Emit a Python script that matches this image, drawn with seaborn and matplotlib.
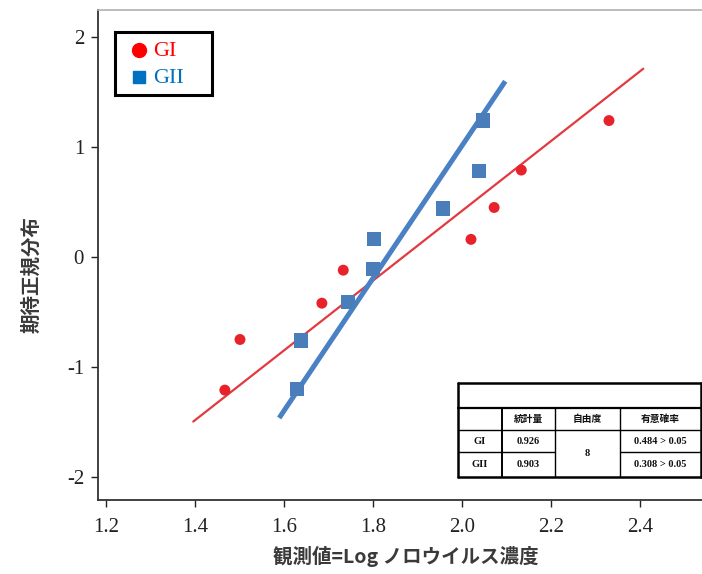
import numpy as np
import pandas as pd
import matplotlib
matplotlib.use("Agg")
import matplotlib.pyplot as plt
import seaborn as sns
from matplotlib.lines import Line2D
from matplotlib.patches import Rectangle

# Observed log norovirus concentration vs. expected normal quantile
gi_x = [1.467, 1.501, 1.685, 1.733, 2.020, 2.072, 2.133, 2.330]
gi_y = [-1.21, -0.75, -0.42, -0.12, 0.16, 0.45, 0.79, 1.24]
gii_x = [1.629, 1.638, 1.744, 1.800, 1.802, 1.957, 2.038, 2.047]
gii_y = [-1.20, -0.76, -0.41, -0.11, 0.16, 0.44, 0.78, 1.24]

# x extent of each reference line
gi_line_range = [1.396, 2.407]
gii_line_range = [1.589, 2.097]

groups = ["GI", "GII"]
x_ticks = [1.2, 1.4, 1.6, 1.8, 2.0, 2.2, 2.4]
y_ticks = [-2, -1, 0, 1, 2]

table_header = ["", "統計量", "自由度", "有意確率"]
table_stat = ["0.926", "0.903"]
table_df = "8"
table_p = ["0.484 > 0.05", "0.308 > 0.05"]

RED_PT = "#e8222b"
RED_LN = "#e23a40"
BLUE_PT = "#4a7ebb"
BLUE_LN = "#4a80c4"
LEG_RED = "#ff0000"
LEG_BLUE = "#0070c0"

sns.set_theme(style="white")
plt.rcParams["font.family"] = ["Liberation Serif", "Noto Sans CJK JP", "DejaVu Sans"]
CJK = ["Noto Sans CJK JP", "DejaVu Sans"]

W, H = 702, 574
fig = plt.figure(figsize=(W / 100, H / 100), dpi=100)
ax = fig.add_axes([98 / W, 1 - 500 / H, 604 / W, 490 / H])

df = pd.DataFrame({
    "x": gi_x + gii_x,
    "y": gi_y + gii_y,
    "group": ["GI"] * len(gi_x) + ["GII"] * len(gii_x),
})


def ref_line(xs, rng):
    xs = np.asarray(xs)
    m, sd = xs.mean(), xs.std(ddof=1)
    lx = np.array(rng)
    return lx, (lx - m) / sd


lx, ly = ref_line(gi_x, gi_line_range)
sns.lineplot(x=lx, y=ly, color=RED_LN, lw=1.6, ax=ax, zorder=2)
lx, ly = ref_line(gii_x, gii_line_range)
sns.lineplot(x=lx, y=ly, color=BLUE_LN, lw=3.6, ax=ax, zorder=2,
             solid_capstyle="butt")

sns.scatterplot(data=df[df.group == "GI"], x="x", y="y", marker="o",
                color=RED_PT, s=62, edgecolor="none", ax=ax, zorder=3)
sns.scatterplot(data=df[df.group == "GII"], x="x", y="y", marker="s",
                color=BLUE_PT, s=105, edgecolor="none", ax=ax, zorder=3)

ax.set_xlim(1.182, 2.539)
ax.set_ylim(-2.209, 2.245)
ax.set_xticks(x_ticks)
ax.set_xticklabels([f"{v:.1f}" for v in x_ticks])
ax.set_yticks(y_ticks)
ax.set_yticklabels([str(v) for v in y_ticks])
ax.tick_params(axis="x", direction="out", length=5, width=1, pad=8,
               labelsize=15, colors="#222222")
ax.tick_params(axis="y", direction="out", length=5, width=1, pad=5,
               labelsize=15, colors="#222222")
ax.tick_params(bottom=True, left=True)

for side in ("left", "bottom"):
    ax.spines[side].set_color("#333333")
    ax.spines[side].set_linewidth(1.3)
ax.spines["top"].set_color("#b0b0b0")
ax.spines["top"].set_linewidth(1.2)
ax.spines["right"].set_visible(False)

ax.set_xlabel("観測値=Log ノロウイルス濃度", family=CJK, fontsize=14,
              fontweight="bold", color="#3a3a3a")
ax.set_ylabel("期待正規分布", family=CJK, fontsize=14, fontweight="bold",
              color="#3a3a3a")
ax.xaxis.set_label_coords(0.51, -0.094)
ax.yaxis.set_label_coords(-0.094, 0.46)


# figure pixel helpers
def fx(px):
    return px / W


def fy(py):
    return 1 - py / H


# legend box
fig.add_artist(Rectangle((fx(115), fy(95)), fx(212) - fx(115),
                         fy(32) - fy(95), facecolor="white",
                         edgecolor="black", lw=2.2,
                         transform=fig.transFigure, zorder=5))
legend_items = [("o", 10, LEG_RED), ("s", 8.5, LEG_BLUE)]
for i, (g, (mk, ms, c)) in enumerate(zip(groups, legend_items)):
    yy = 50 + 27 * i
    fig.add_artist(Line2D([fx(139)], [fy(yy)], marker=mk, ms=ms, color=c,
                          ls="", transform=fig.transFigure, zorder=6))
    fig.text(fx(153), fy(yy + 1.5), g, color=c, fontsize=16, ha="left",
             va="center", zorder=6)


def hline(x0, x1, y, lw):
    fig.add_artist(Line2D([fx(x0), fx(x1)], [fy(y), fy(y)], color="black",
                          lw=lw, transform=fig.transFigure))


def vline(x, y0, y1, lw):
    fig.add_artist(Line2D([fx(x), fx(x)], [fy(y0), fy(y1)], color="black",
                          lw=lw, transform=fig.transFigure))


# statistics table
tl, tr = 458, 701
rows = [383, 408, 430, 452, 477]
cols = [458, 502, 555, 620, 701]
fig.add_artist(Rectangle((fx(tl), fy(rows[-1])), fx(tr) - fx(tl),
                         fy(rows[0]) - fy(rows[-1]), facecolor="white",
                         edgecolor="none", transform=fig.transFigure,
                         zorder=0.5))
hline(tl, tr, rows[0], 1.8)
hline(tl, tr, rows[1], 1.6)
hline(tl, tr, rows[2], 1.0)
hline(cols[0], cols[2], rows[3], 1.0)
hline(cols[3], tr, rows[3], 1.0)
hline(tl, tr, rows[4], 1.8)
vline(tl, rows[0], rows[4], 1.8)
vline(tr, rows[0], rows[4], 1.8)
vline(cols[1], rows[1], rows[4], 1.4)
vline(cols[2], rows[1], rows[4], 1.0)
vline(cols[3], rows[1], rows[4], 1.0)


def cell_text(s, c0, c1, r0, r1, cjk=False):
    fig.text(fx((cols[c0] + cols[c1]) / 2), fy((rows[r0] + rows[r1]) / 2), s,
             ha="center", va="center", fontsize=7 if cjk else 7.5,
             fontweight="bold", family=CJK if cjk else None, color="#111111")


for i, h in enumerate(table_header):
    if h:
        cell_text(h, i, i + 1, 1, 2, cjk=True)
for r, g in enumerate(groups):
    cell_text(g, 0, 1, 2 + r, 3 + r)
    cell_text(table_stat[r], 1, 2, 2 + r, 3 + r)
    cell_text(table_p[r], 3, 4, 2 + r, 3 + r)
cell_text(table_df, 2, 3, 2, 4)

fig.savefig("out.png", dpi=100)
